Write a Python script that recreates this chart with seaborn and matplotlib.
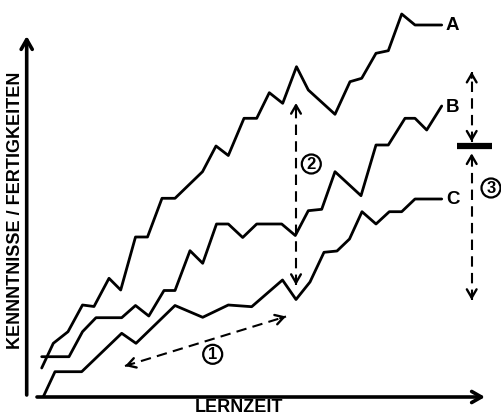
import numpy as np
import pandas as pd
import matplotlib
matplotlib.use("Agg")
import matplotlib.pyplot as plt
from matplotlib.patches import Circle
import seaborn as sns

# Lernkurven (Lernzeit -> Kenntnisse/Fertigkeiten)
zeit_a = [14.7, 26.3, 41, 55.5, 67, 82, 93.7, 108.5, 120.5, 135, 148, 175.5, 189, 201.3,
          217, 229.7, 242.3, 255.7, 269.5, 281.3, 308, 323, 334.7, 349, 361.3, 374.7, 388, 414.7]
niveau_a = [29, 53.7, 65.3, 92, 90.5, 118.7, 107, 160, 160, 198.7, 198.7, 225.3, 251, 241.5,
            278.7, 278.7, 304.3, 293.7, 330.3, 307, 282.7, 315.3, 318.7, 343.7, 346.3, 383, 372, 372]

zeit_b = [14.7, 42, 55.5, 69, 94.7, 108.5, 121.8, 137, 148, 163, 175.7, 189.5, 201.3, 215.7,
          229.7, 254.7, 268.3, 281.3, 294.7, 308, 334, 349, 361.3, 378, 388, 399.7, 414.7]
niveau_b = [40.3, 40.3, 65.3, 79.3, 79.3, 91.5, 81, 106.5, 106.5, 146.3, 133.7, 173, 173, 159.5,
            173, 173, 161.5, 186.3, 187.7, 225.3, 201.3, 252, 252, 278.7, 278.7, 267, 291]

zeit_c = [16.3, 28, 54.7, 94.7, 109, 148, 175.7, 201.3, 224.7, 255.5, 269, 283, 297, 310,
          322.5, 335, 349, 362.3, 374.7, 388, 414.7]
niveau_c = [0.3, 25.3, 25.3, 63.7, 53.7, 91.5, 79.7, 92, 90.3, 117, 97.5, 115, 144.7, 146,
            158, 185.3, 173, 185.3, 185.3, 198, 198]

kurven = ["A", "B", "C"]

# Pfeile (Start, Ende) und Nummern
pfeil_1 = [(98, 31), (259, 80.5)]
pfeil_2 = [(269, 112), (269, 294)]
pfeil_3_oben = [(444.7, 255.3), (444.7, 325.3)]
pfeil_3_unten = [(444.7, 97), (444.7, 243.7)]
balken_3 = [(429.7, 250.7), (464.7, 250.7)]
nummern = ["1", "2", "3"]
nummer_pos = [(185.7, 42.7), (284.3, 233), (464, 209)]

df = pd.concat([
    pd.DataFrame({"zeit": zeit_a, "niveau": niveau_a, "kurve": "A"}),
    pd.DataFrame({"zeit": zeit_b, "niveau": niveau_b, "kurve": "B"}),
    pd.DataFrame({"zeit": zeit_c, "niveau": niveau_c, "kurve": "C"}),
])

sns.set_style("white")
plt.rcParams['font.family'] = ['Liberation Sans', 'DejaVu Sans']
plt.rcParams['text.color'] = 'black'

fig = plt.figure(figsize=(5.02, 4.16), dpi=100)
ax = fig.add_axes([0, 0, 1, 1])
ax.set_xlim(-27, 475)
ax.set_ylim(-19, 397)
ax.axis("off")

sns.lineplot(data=df, x="zeit", y="niveau", hue="kurve", units="kurve",
             palette={"A": "black", "B": "black", "C": "black"},
             estimator=None, sort=False, legend=False, lw=2.0, ax=ax)

# Kurvenbeschriftung
for k, x, y in zip(kurven, [zeit_a, zeit_b, zeit_c], [niveau_a, niveau_b, niveau_c]):
    ax.text(x[-1] + 11, y[-1] - 1, k, ha="center", va="center",
            fontsize=13.5, fontweight="heavy", color="black")

# Achsen als Pfeile
kopf = dict(arrowstyle="->,head_length=0.7,head_width=0.4", lw=2.6, color="black",
            shrinkA=0, shrinkB=0)
ax.annotate("", xy=(-0.3, 361), xytext=(-0.3, 2), arrowprops=kopf)
ax.annotate("", xy=(458, 0), xytext=(10, 0), arrowprops=kopf)

ax.text(-11.5, 187, "KENNNTNISSE / FERTIGKEITEN", rotation=90, ha="center", va="center",
        fontsize=13, fontweight="heavy", color="black")
ax.text(212, -11, "LERNZEIT", ha="center", va="center", fontsize=13, fontweight="heavy",
        color="black")


def pfeil(p0, p1):
    (x0, y0), (x1, y1) = p0, p1
    ax.plot([x0, x1], [y0, y1], color="black", lw=1.5, ls=(0, (5, 3)))
    d = np.hypot(x1 - x0, y1 - y0)
    ux, uy = (x1 - x0) / d, (y1 - y0) / d
    spitze = dict(arrowstyle="->,head_length=0.6,head_width=0.35", lw=1.7,
                  color="black", shrinkA=0, shrinkB=0)
    ax.annotate("", xy=(x1, y1), xytext=(x1 - 6 * ux, y1 - 6 * uy), arrowprops=spitze)
    ax.annotate("", xy=(x0, y0), xytext=(x0 + 6 * ux, y0 + 6 * uy), arrowprops=spitze)


pfeil(*pfeil_1)
pfeil(*pfeil_2)
pfeil(*pfeil_3_oben)
pfeil(*pfeil_3_unten)
ax.plot([p[0] for p in balken_3], [p[1] for p in balken_3], color="black", lw=4.5,
        solid_capstyle="butt")

for n, (x, y) in zip(nummern, nummer_pos):
    ax.add_patch(Circle((x, y), 9.5, fc="white", ec="black", lw=1.6, zorder=3))
    ax.text(x, y - 0.5, n, ha="center", va="center", fontsize=12, fontweight="bold",
            color="black", zorder=4)

plt.savefig("out.png", dpi=100)
